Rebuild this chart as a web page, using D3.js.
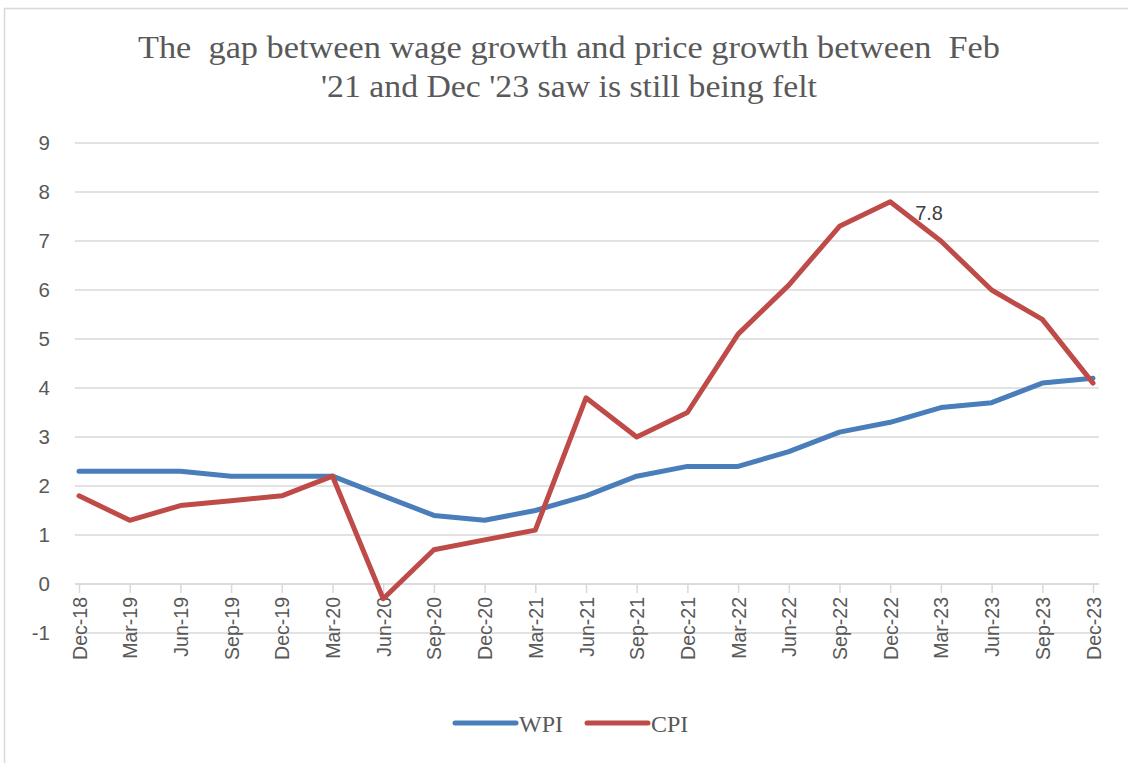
<!DOCTYPE html>
<html>
<head>
<meta charset="utf-8">
<script src="https://cdn.jsdelivr.net/npm/d3@7"></script>
<style>
  body { margin: 0; background: #fff; }
</style>
</head>
<body>
<div id="chart"></div>
<script>
'use strict'

// data
const quarters = ["Dec-18","Mar-19","Jun-19","Sep-19","Dec-19","Mar-20","Jun-20","Sep-20","Dec-20","Mar-21","Jun-21",
                  "Sep-21","Dec-21","Mar-22","Jun-22","Sep-22","Dec-22","Mar-23","Jun-23","Sep-23","Dec-23"]
const wpi = [2.3, 2.3, 2.3, 2.2, 2.2, 2.2, 1.8, 1.4, 1.3, 1.5, 1.8, 2.2, 2.4, 2.4, 2.7, 3.1, 3.3, 3.6, 3.7, 4.1, 4.2]
const cpi = [1.8, 1.3, 1.6, 1.7, 1.8, 2.2, -0.3, 0.7, 0.9, 1.1, 3.8, 3.0, 3.5, 5.1, 6.1, 7.3, 7.8, 7.0, 6.0, 5.4, 4.1]
const yTicks = [-1, 0, 1, 2, 3, 4, 5, 6, 7, 8, 9]
const seriesNames = ["WPI", "CPI"]
const peakLabel = "7.8"

////////////////////////////////////
//////////// svg setup /////////////
////////////////////////////////////

const svgWidth = 1128
const svgHeight = 763
const grey = '#595959'
const gridColor = '#d9d9d9'
const sans = '"Liberation Sans", Arial, sans-serif'
const serif = '"Liberation Serif", "DejaVu Serif", serif'

const svg = d3.select('#chart')
    .append('svg')
    .attr('width', svgWidth)
    .attr('height', svgHeight)

// chart frame (only top & left edges visible in the crop)
svg.append('rect')
    .attr('x', 4.5).attr('y', 8.5)
    .attr('width', svgWidth + 20).attr('height', svgHeight + 20)
    .attr('fill', 'none')
    .attr('stroke', gridColor)
    .attr('stroke-width', 1.5)

////////////////////////////////////
//////////// Scales ////////////////
////////////////////////////////////

const x = d3.scalePoint().domain(quarters).range([79, 1093])
const y = d3.scaleLinear().domain([-1, 9]).range([633, 143])
const color = d3.scaleOrdinal().domain(seriesNames).range(['#4A7EBB', '#BE4B48'])

////////////////////////////////////
//////////// grid & axes ///////////
////////////////////////////////////

svg.append('g')
    .selectAll('line')
    .data(yTicks)
    .join('line')
    .attr('x1', 75).attr('x2', 1099)
    .attr('y1', d => y(d)).attr('y2', d => y(d))
    .attr('stroke', gridColor)
    .attr('stroke-width', 1.5)

// y labels
svg.append('g')
    .selectAll('text')
    .data(yTicks)
    .join('text')
    .attr('x', 50)
    .attr('y', d => y(d))
    .attr('dy', '0.36em')
    .attr('text-anchor', 'end')
    .attr('fill', grey)
    .style('font-family', sans)
    .style('font-size', '20.5px')
    .text(d => d)

// x axis at zero
const xAxis = svg.append('g')
    .attr('transform', `translate(0,${y(0)})`)
    .call(d3.axisBottom(x).tickSize(9).tickSizeOuter(0).tickPadding(0))

xAxis.select('.domain').remove()
xAxis.append('line')
    .attr('x1', 75).attr('x2', 1099)
    .attr('stroke', gridColor).attr('stroke-width', 1.5)
xAxis.selectAll('.tick line').attr('stroke', gridColor).attr('stroke-width', 1.5)
xAxis.selectAll('.tick text')
    .attr('transform', 'translate(0,13) rotate(-90)')
    .attr('x', 0).attr('y', 0)
    .attr('dy', '0.36em')
    .attr('text-anchor', 'end')
    .attr('fill', grey)
    .style('font-family', sans)
    .style('font-size', '19.5px')

////////////////////////////////////
//////////// lines /////////////////
////////////////////////////////////

const line = d3.line()
    .x((d, i) => x(quarters[i]))
    .y(d => y(d))

const series = [
    { name: seriesNames[0], values: wpi },
    { name: seriesNames[1], values: cpi }
]

svg.append('g')
    .selectAll('path')
    .data(series)
    .join('path')
    .attr('d', d => line(d.values))
    .attr('fill', 'none')
    .attr('stroke', d => color(d.name))
    .attr('stroke-width', 5)
    .attr('stroke-linejoin', 'round')
    .attr('stroke-linecap', 'round')

// peak annotation
const peakIdx = cpi.indexOf(d3.max(cpi))
svg.append('text')
    .attr('x', x(quarters[peakIdx]) + 25)
    .attr('y', y(cpi[peakIdx]) + 18)
    .attr('fill', '#404040')
    .style('font-family', sans)
    .style('font-size', '20px')
    .text(peakLabel)

////////////////////////////////////
//////////// title /////////////////
////////////////////////////////////

const titleLines = [
    { text: "The  gap between wage growth and price growth between  Feb", y: 58, len: 862 },
    { text: "'21 and Dec '23 saw is still being felt", y: 97, len: 496 }
]

svg.append('g')
    .selectAll('text')
    .data(titleLines)
    .join('text')
    .attr('x', 569)
    .attr('y', d => d.y)
    .attr('text-anchor', 'middle')
    .attr('textLength', d => d.len)
    .attr('lengthAdjust', 'spacingAndGlyphs')
    .attr('fill', grey)
    .style('font-family', serif)
    .style('font-size', '31px')
    .style('white-space', 'pre')
    .text(d => d.text)

////////////////////////////////////
//////////// legend ////////////////
////////////////////////////////////

const legendX = [455, 587]
const legend = svg.append('g')
    .selectAll('g')
    .data(seriesNames)
    .join('g')
    .attr('transform', (d, i) => `translate(${legendX[i]},723)`)

legend.append('line')
    .attr('x1', 0).attr('x2', 61)
    .attr('stroke', d => color(d))
    .attr('stroke-width', 5)
    .attr('stroke-linecap', 'round')

legend.append('text')
    .attr('x', 64)
    .attr('y', 8.5)
    .attr('fill', grey)
    .style('font-family', serif)
    .style('font-size', '24px')
    .text(d => d)
</script>
</body>
</html>
